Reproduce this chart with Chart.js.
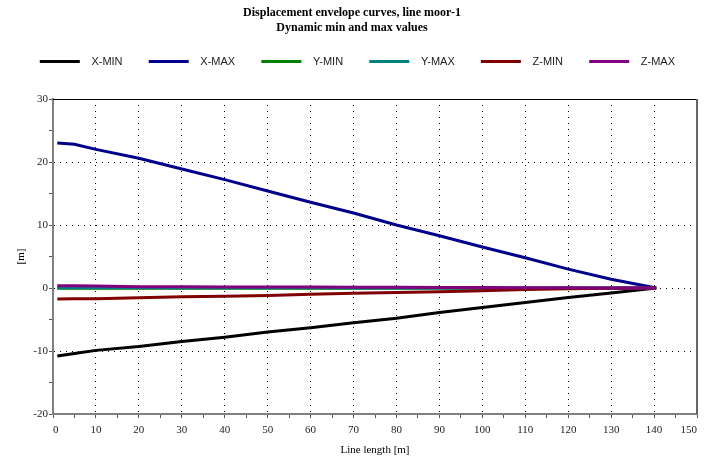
<!DOCTYPE html>
<html>
<head>
<meta charset="utf-8">
<script src="https://cdn.jsdelivr.net/npm/chart.js@4/dist/chart.umd.min.js"></script>
<style>
  html, body { margin: 0; padding: 0; background: #fff; }
  #wrap { width: 704px; height: 459px; }
</style>
</head>
<body>
<div id="wrap"><canvas id="myChart"></canvas></div>
<script>
// Line length positions [m]
const lineLength = [1, 5, 10, 20, 30, 40, 50, 60, 70, 80, 90, 100, 110, 120, 130, 140.5];

// Envelope values [m]
const xMin = [-10.8, -10.4, -9.9, -9.3, -8.5, -7.8, -7.0, -6.3, -5.5, -4.8, -3.9, -3.1, -2.3, -1.5, -0.8, 0];
const xMax = [23.0, 22.8, 22.0, 20.6, 18.9, 17.2, 15.4, 13.6, 11.9, 10.0, 8.3, 6.5, 4.8, 3.0, 1.4, 0];
const yMin = [-0.05, -0.05, -0.05, -0.05, -0.04, -0.04, -0.04, -0.03, -0.03, -0.03, -0.02, -0.02, -0.02, -0.01, -0.01, 0];
const yMax = [0.02, 0.02, 0.02, 0.02, 0.02, 0.02, 0.02, 0.02, 0.01, 0.01, 0.01, 0.01, 0.01, 0.01, 0.01, 0];
const zMin = [-1.75, -1.72, -1.7, -1.55, -1.4, -1.3, -1.2, -1.0, -0.85, -0.7, -0.6, -0.45, -0.25, -0.1, -0.05, 0];
const zMax = [0.35, 0.35, 0.3, 0.2, 0.18, 0.17, 0.15, 0.14, 0.12, 0.1, 0.08, 0.06, 0.04, 0.02, 0.01, 0];

const seriesNames = ['X-MIN', 'X-MAX', 'Y-MIN', 'Y-MAX', 'Z-MIN', 'Z-MAX'];
const seriesColors = ['#000000', '#00008b', '#008000', '#008080', '#800000', '#800080'];
const seriesValues = [xMin, xMax, yMin, yMax, zMin, zMax];
const drawOrder = [6, 5, 4, 3, 2, 1]; // Z-MAX on top

const datasets = seriesValues.map((vals, i) => ({
    label: seriesNames[i],
    data: lineLength.map((x, j) => ({ x: x, y: vals[j] })),
    borderColor: seriesColors[i],
    backgroundColor: seriesColors[i],
    borderWidth: 3,
    pointRadius: 0,
    tension: 0,
    order: drawOrder[i]
}));

// extra room below the legend, and nudge it right a bit
const legendGap = {
    id: 'legendGap',
    beforeInit(chart) {
        const fit = chart.legend.fit;
        chart.legend.fit = function () {
            fit.call(this);
            this.height += 22;
        };
    },
    afterLayout(chart) {
        chart.legend.left += 10;
        chart.legend.right += 10;
    }
};

// top and right frame lines
const frame = {
    id: 'frame',
    afterDraw(chart) {
        const { ctx, chartArea: a } = chart;
        ctx.save();
        ctx.strokeStyle = '#000';
        ctx.lineWidth = 1;
        ctx.beginPath();
        ctx.moveTo(a.left, a.top + 0.5);
        ctx.lineTo(a.right, a.top + 0.5);
        ctx.stroke();
        ctx.strokeStyle = '#666';
        ctx.lineWidth = 2;
        ctx.beginPath();
        ctx.moveTo(a.right, a.top);
        ctx.lineTo(a.right, a.bottom);
        ctx.stroke();
        ctx.restore();
    }
};

const serif = 'Liberation Serif, Times New Roman, serif';

const ctx = document.getElementById('myChart').getContext('2d');
const chart = new Chart(ctx, {
    type: 'line',
    data: { datasets: datasets },
    plugins: [legendGap, frame],
    options: {
        responsive: true,
        maintainAspectRatio: false,
        animation: false,
        devicePixelRatio: 1,
        layout: { padding: { left: 0, right: 0, top: 0, bottom: 0 } },
        plugins: {
            tooltip: { enabled: false },
            title: {
                display: true,
                text: ['Displacement envelope curves, line moor-1', 'Dynamic min and max values'],
                color: '#000',
                font: { family: serif, size: 12, weight: 'bold', lineHeight: 1.25 },
                padding: { top: 5, bottom: 4 }
            },
            legend: {
                position: 'top',
                labels: {
                    boxWidth: 40,
                    boxHeight: 3,
                    padding: 17,
                    color: '#222',
                    font: { family: 'Liberation Sans, Arial, sans-serif', size: 11 },
                    sort: (a, b) => a.datasetIndex - b.datasetIndex,
                    generateLabels(chart) {
                        return Chart.defaults.plugins.legend.labels.generateLabels(chart).map(l => {
                            l.text = '  ' + l.text + '   ';
                            l.lineWidth = 0;
                            return l;
                        });
                    }
                }
            }
        },
        scales: {
            x: {
                type: 'linear',
                min: 0,
                max: 150,
                afterFit(scale) {
                    scale.height = 45;
                    scale.paddingLeft = 0;
                    scale.paddingRight = 7;
                },
                ticks: {
                    stepSize: 5,
                    autoSkip: false,
                    maxRotation: 0,
                    align: 'inner',
                    padding: 6,
                    color: '#222',
                    font: { family: serif, size: 11 },
                    callback: v => (v % 10 === 0 ? v : '')
                },
                grid: {
                    color: c => (c.tick && c.tick.value % 10 === 0 && c.tick.value > 0 && c.tick.value < 150 ? '#000' : 'rgba(0,0,0,0)'),
                    tickColor: '#555',
                    tickLength: 4,
                    lineWidth: 1
                },
                border: { display: true, color: '#808080', width: 2, dash: [1, 5] },
                title: {
                    display: true,
                    text: 'Line length [m]',
                    color: '#000',
                    font: { family: serif, size: 11 },
                    padding: { top: 2, bottom: 2 }
                }
            },
            y: {
                min: -20,
                max: 30,
                afterFit(scale) { scale.width = 53; },
                ticks: {
                    stepSize: 5,
                    autoSkip: false,
                    padding: 1,
                    color: '#222',
                    font: { family: serif, size: 11 },
                    callback: v => (v % 10 === 0 ? v : '')
                },
                grid: {
                    color: c => (c.tick && c.tick.value % 10 === 0 && c.tick.value > -20 && c.tick.value < 30 ? '#000' : 'rgba(0,0,0,0)'),
                    tickColor: '#555',
                    tickLength: 4,
                    lineWidth: 1
                },
                border: { display: true, color: '#808080', width: 2, dash: [1, 5] },
                title: {
                    display: true,
                    text: '[m]',
                    color: '#000',
                    font: { family: serif, size: 11 },
                    padding: { top: 15, bottom: 0 }
                }
            }
        }
    }
});
</script>
</body>
</html>
